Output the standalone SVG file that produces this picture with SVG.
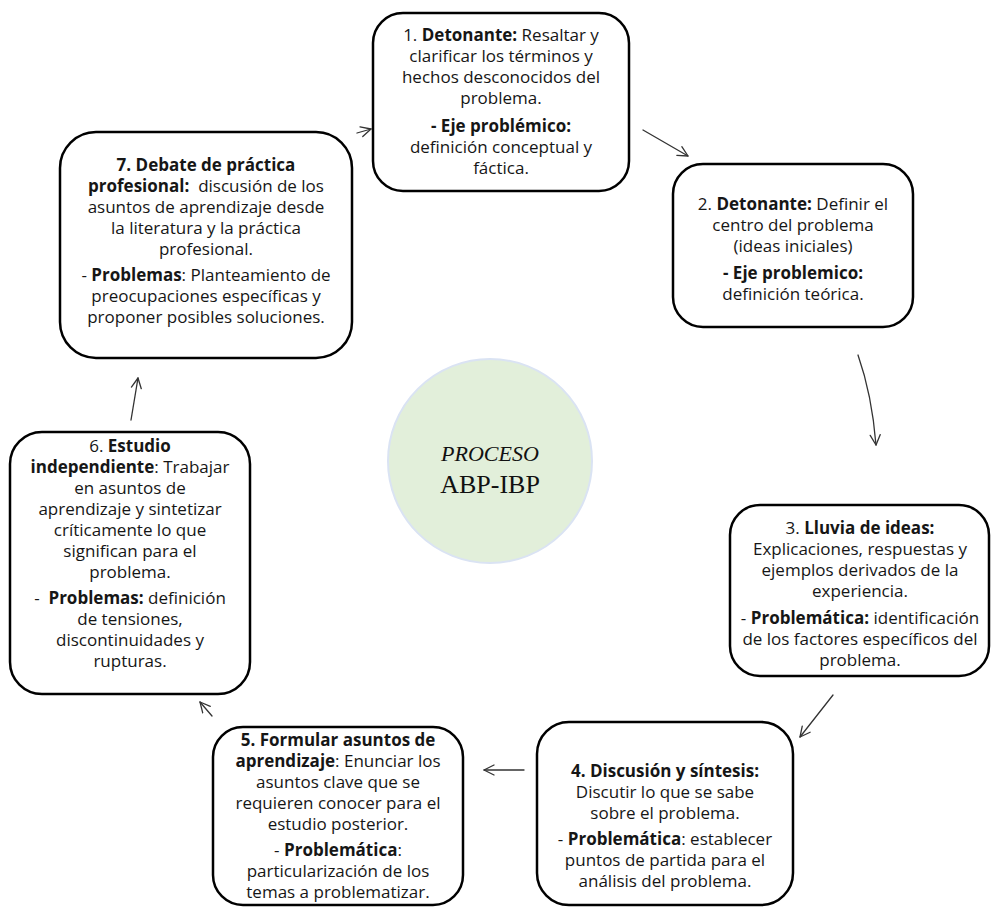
<svg xmlns="http://www.w3.org/2000/svg" width="991" height="911" viewBox="0 0 991 911">
<style>
.box{fill:#fff;stroke:#000;stroke-width:2.5}
.t{font-family:"Open Sans","Liberation Sans",sans-serif;font-size:17px;fill:#161616;text-anchor:middle;white-space:pre}
.b{font-weight:700}
.c{fill:none;stroke:#333;stroke-width:1.3;stroke-linecap:round}
.ser{font-family:"Liberation Serif","DejaVu Serif",serif;fill:#111;text-anchor:middle}
</style>
<defs>
<marker id="ah" viewBox="0 0 12 12" refX="11" refY="6" markerWidth="12" markerHeight="12" markerUnits="userSpaceOnUse" orient="auto">
<path d="M1,1 L11,6 L1,11" fill="none" stroke="#333" stroke-width="1.3" stroke-linecap="round" stroke-linejoin="round"/>
</marker>
</defs>
<rect width="991" height="911" fill="#fff"/>
<g id="center">
<circle cx="490" cy="461" r="102" fill="#E2EFDA" stroke="#DAE3F3" stroke-width="2"/>
<text class="ser" x="490" y="461" font-size="22" font-style="italic">PROCESO</text>
<text class="ser" x="490" y="493" font-size="26">ABP-IBP</text>
</g>
<g id="connectors">
<path class="c" d="M357,133 L371,129" marker-end="url(#ah)"/>
<path class="c" d="M643,130 L688,156" marker-end="url(#ah)"/>
<path class="c" d="M858,355 Q872,395 876,445" marker-end="url(#ah)"/>
<path class="c" d="M833,695 L800,737" marker-end="url(#ah)"/>
<path class="c" d="M524,770 L484,770" marker-end="url(#ah)"/>
<path class="c" d="M212,716 L200,702" marker-end="url(#ah)"/>
<path class="c" d="M131,420 L138,378" marker-end="url(#ah)"/>
</g>
<g id="n1">
<rect class="box" x="373" y="13" width="256" height="178" rx="30"/>
<text class="t" x="501" y="41">1. <tspan class="b">Detonante:</tspan> Resaltar y</text>
<text class="t" x="501" y="62">clarificar los términos y</text>
<text class="t" x="501" y="83">hechos desconocidos del</text>
<text class="t" x="501" y="104">problema.</text>
<text class="t" x="501" y="132"><tspan class="b">- Eje problémico:</tspan></text>
<text class="t" x="501" y="153">definición conceptual y</text>
<text class="t" x="501" y="174">fáctica.</text>
</g>
<g id="n2">
<rect class="box" x="673" y="164" width="240" height="163" rx="30"/>
<text class="t" x="793" y="210">2. <tspan class="b">Detonante:</tspan> Definir el</text>
<text class="t" x="793" y="231">centro del problema</text>
<text class="t" x="793" y="252">(ideas iniciales)</text>
<text class="t" x="793" y="279"><tspan class="b">- Eje problemico:</tspan></text>
<text class="t" x="793" y="300">definición teórica.</text>
</g>
<g id="n3">
<rect class="box" x="730" y="505" width="259" height="171" rx="30"/>
<text class="t" x="860" y="534">3. <tspan class="b">Lluvia de ideas:</tspan></text>
<text class="t" x="860" y="555">Explicaciones, respuestas y</text>
<text class="t" x="860" y="576">ejemplos derivados de la</text>
<text class="t" x="860" y="597">experiencia.</text>
<text class="t" x="860" y="624">- <tspan class="b">Problemática:</tspan> identificación</text>
<text class="t" x="860" y="645">de los factores específicos del</text>
<text class="t" x="860" y="666">problema.</text>
</g>
<g id="n4">
<rect class="box" x="537" y="722" width="256" height="183" rx="32"/>
<text class="t" x="665" y="777"><tspan class="b">4. Discusión y síntesis:</tspan></text>
<text class="t" x="665" y="798">Discutir lo que se sabe</text>
<text class="t" x="665" y="819">sobre el problema.</text>
<text class="t" x="665" y="845">- <tspan class="b">Problemática</tspan>: establecer</text>
<text class="t" x="665" y="866">puntos de partida para el</text>
<text class="t" x="665" y="887">análisis del problema.</text>
</g>
<g id="n5">
<rect class="box" x="213" y="727" width="250" height="178" rx="30"/>
<text class="t" x="338" y="746"><tspan class="b">5. Formular asuntos de</tspan></text>
<text class="t" x="338" y="767"><tspan class="b">aprendizaje</tspan>: Enunciar los</text>
<text class="t" x="338" y="788">asuntos clave que se</text>
<text class="t" x="338" y="809">requieren conocer para el</text>
<text class="t" x="338" y="830">estudio posterior.</text>
<text class="t" x="338" y="856">- <tspan class="b">Problemática</tspan>:</text>
<text class="t" x="338" y="877">particularización de los</text>
<text class="t" x="338" y="898">temas a problematizar.</text>
</g>
<g id="n6">
<rect class="box" x="10" y="432" width="240" height="262" rx="32"/>
<text class="t" x="130" y="452">6. <tspan class="b">Estudio</tspan></text>
<text class="t" x="130" y="473"><tspan class="b">independiente</tspan>: Trabajar</text>
<text class="t" x="130" y="494">en asuntos de</text>
<text class="t" x="130" y="515">aprendizaje y sintetizar</text>
<text class="t" x="130" y="536">críticamente lo que</text>
<text class="t" x="130" y="557">significan para el</text>
<text class="t" x="130" y="578">problema.</text>
<text class="t" x="130" y="604">-  <tspan class="b">Problemas:</tspan> definición</text>
<text class="t" x="130" y="625">de tensiones,</text>
<text class="t" x="130" y="646">discontinuidades y</text>
<text class="t" x="130" y="667">rupturas.</text>
</g>
<g id="n7">
<rect class="box" x="60" y="132" width="292" height="226" rx="36"/>
<text class="t" x="206" y="171"><tspan class="b">7. Debate de práctica</tspan></text>
<text class="t" x="206" y="192"><tspan class="b">profesional:</tspan>  discusión de los</text>
<text class="t" x="206" y="213">asuntos de aprendizaje desde</text>
<text class="t" x="206" y="234">la literatura y la práctica</text>
<text class="t" x="206" y="255">profesional.</text>
<text class="t" x="206" y="281">- <tspan class="b">Problemas</tspan>: Planteamiento de</text>
<text class="t" x="206" y="302">preocupaciones específicas y</text>
<text class="t" x="206" y="323">proponer posibles soluciones.</text>
</g>
</svg>
